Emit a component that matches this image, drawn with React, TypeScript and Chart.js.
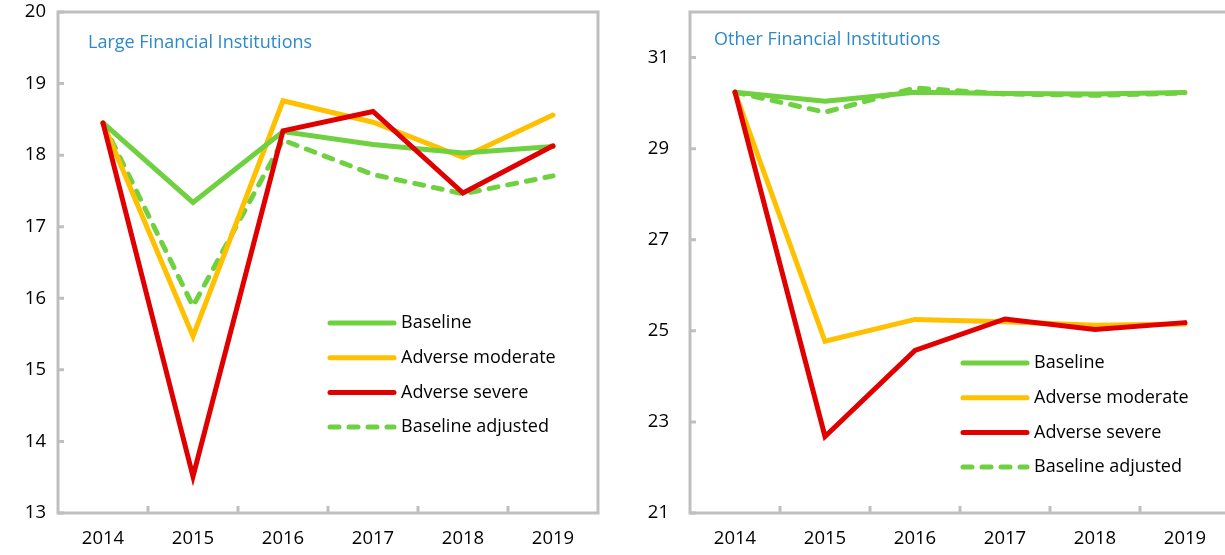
import React, { useEffect, useRef } from "react";
import { Chart, registerables } from "chart.js";
Chart.register(...registerables);

const years = ["2014", "2015", "2016", "2017", "2018", "2019"];
const seriesNames = ["Baseline", "Adverse moderate", "Adverse severe", "Baseline adjusted"];
const seriesColors = ["#6FD140", "#FFC000", "#E00000", "#6FD140"];

const largeBaseline = [18.45, 17.34, 18.33, 18.15, 18.03, 18.12];
const largeModerate = [18.45, 15.47, 18.76, 18.46, 17.97, 18.56];
const largeSevere = [18.45, 13.51, 18.34, 18.61, 17.47, 18.13];
const largeAdjusted = [18.45, 15.89, 18.21, 17.73, 17.46, 17.71];

const otherBaseline = [30.24, 30.04, 30.24, 30.21, 30.2, 30.23];
const otherModerate = [30.24, 24.77, 25.25, 25.2, 25.12, 25.15];
const otherSevere = [30.24, 22.68, 24.57, 25.26, 25.03, 25.18];
const otherAdjusted = [30.24, 29.8, 30.33, 30.2, 30.17, 30.22];

const largeTicks = [13, 14, 15, 16, 17, 18, 19, 20];
const otherTicks = [21, 23, 25, 27, 29, 31];

const FONT = "'Open Sans', 'Noto Sans', sans-serif";
const FRAME = "#BFBFBF";

const framePlugin = {
  id: "framePlugin",
  beforeDatasetsDraw(chart: any) {
    const { ctx, chartArea } = chart;
    const xs = chart.scales.x;
    const ys = chart.scales.y;
    ctx.save();
    ctx.strokeStyle = FRAME;
    ctx.lineWidth = 3;
    ctx.strokeRect(chartArea.left, chartArea.top, chartArea.right - chartArea.left, chartArea.bottom - chartArea.top);
    ctx.beginPath();
    ys.ticks.forEach((t: any) => {
      const y = ys.getPixelForValue(t.value);
      ctx.moveTo(chartArea.left, y);
      ctx.lineTo(chartArea.left + 6, y);
    });
    const n = chart.data.labels.length;
    for (let i = 1; i < n; i++) {
      const x = (xs.getPixelForValue(i - 1) + xs.getPixelForValue(i)) / 2;
      ctx.moveTo(x, chartArea.bottom);
      ctx.lineTo(x, chartArea.bottom - 7);
    }
    ctx.stroke();
    ctx.restore();
  },
  afterDatasetsDraw(chart: any, _args: any, opts: any) {
    const { ctx, chartArea } = chart;
    ctx.save();
    ctx.font = `18px ${FONT}`;
    ctx.textBaseline = "middle";
    ctx.textAlign = "left";
    ctx.fillStyle = "#2E89C9";
    ctx.fillText(opts.title, chartArea.left + opts.titleX, chartArea.top + opts.titleY);
    const lx = chartArea.left + opts.legendX;
    let ly = chartArea.top + opts.legendY;
    chart.data.datasets.forEach((ds: any) => {
      ctx.beginPath();
      ctx.strokeStyle = ds.borderColor;
      ctx.lineWidth = 5;
      ctx.lineCap = "round";
      ctx.setLineDash(ds.borderDash || []);
      ctx.moveTo(lx + 2, ly);
      ctx.lineTo(lx + 66, ly);
      ctx.stroke();
      ctx.setLineDash([]);
      ctx.fillStyle = "#000000";
      ctx.fillText(ds.label, lx + 73, ly);
      ly += 34.7;
    });
    ctx.restore();
  },
};

function makeDatasets(arrs: number[][]) {
  return arrs.map((d, i) => ({
    label: seriesNames[i],
    data: d,
    borderColor: seriesColors[i],
    backgroundColor: seriesColors[i],
    borderWidth: 5,
    borderDash: i === 3 ? [9, 10] : [],
    borderCapStyle: "round",
    borderJoinStyle: "miter",
    pointRadius: 0,
    tension: 0,
    fill: false,
    order: [1, 2, 0, 3][i],
  }));
}

function ChartBox(props: any) {
  const ref = useRef<HTMLCanvasElement>(null);
  useEffect(() => {
    const ch = new Chart(ref.current as HTMLCanvasElement, {
      type: "line",
      data: { labels: years, datasets: makeDatasets(props.series) as any },
      plugins: [framePlugin],
      options: {
        animation: false,
        responsive: false,
        devicePixelRatio: 1,
        layout: { padding: { top: 12, right: props.padRight, bottom: 0, left: 0 } },
        plugins: {
          legend: { display: false },
          tooltip: { enabled: false },
          framePlugin: {
            title: props.title,
            titleX: props.titleX,
            titleY: props.titleY,
            legendX: props.legendX,
            legendY: props.legendY,
          },
        } as any,
        scales: {
          x: {
            type: "category",
            offset: true,
            grid: { display: false, drawTicks: false },
            border: { display: false },
            ticks: { color: "#000", font: { family: FONT, size: 18.5 }, padding: 15, maxRotation: 0 },
            afterFit: (s: any) => {
              s.height = 42;
              s.paddingLeft = 0;
              s.paddingRight = 0;
            },
          },
          y: {
            min: props.min,
            max: props.max,
            grid: { display: false, drawTicks: false },
            border: { display: false },
            afterBuildTicks: (s: any) => { s.ticks = props.ticks.map((v: number) => ({ value: v })); },
            ticks: { color: "#000", font: { family: FONT, size: 18.5 }, padding: props.yPad },
            afterFit: (s: any) => {
              s.width = props.yWidth;
              s.paddingTop = 0;
              s.paddingBottom = 0;
            },
          },
        },
      } as any,
    });
    return () => ch.destroy();
  }, []);
  return (
    <canvas
      ref={ref}
      width={props.width}
      height={555}
      style={{ position: "absolute", left: props.left, top: 0, width: props.width, height: 555 }}
    />
  );
}

export default function App() {
  return (
    <div style={{ position: "absolute", left: 0, top: 0, width: 1225, height: 555, overflow: "hidden", background: "#fff" }}>
      <ChartBox
        left={0}
        width={610}
        padRight={12}
        yWidth={58}
        yPad={12}
        min={13}
        max={20}
        ticks={largeTicks}
        series={[largeBaseline, largeModerate, largeSevere, largeAdjusted]}
        title="Large Financial Institutions"
        titleX={30}
        titleY={31}
        legendX={270}
        legendY={311}
      />
      <ChartBox
        left={610}
        width={640}
        padRight={20}
        yWidth={80}
        yPad={21}
        min={21}
        max={32}
        ticks={otherTicks}
        series={[otherBaseline, otherModerate, otherSevere, otherAdjusted]}
        title="Other Financial Institutions"
        titleX={24}
        titleY={28}
        legendX={271}
        legendY={351}
      />
    </div>
  );
}
